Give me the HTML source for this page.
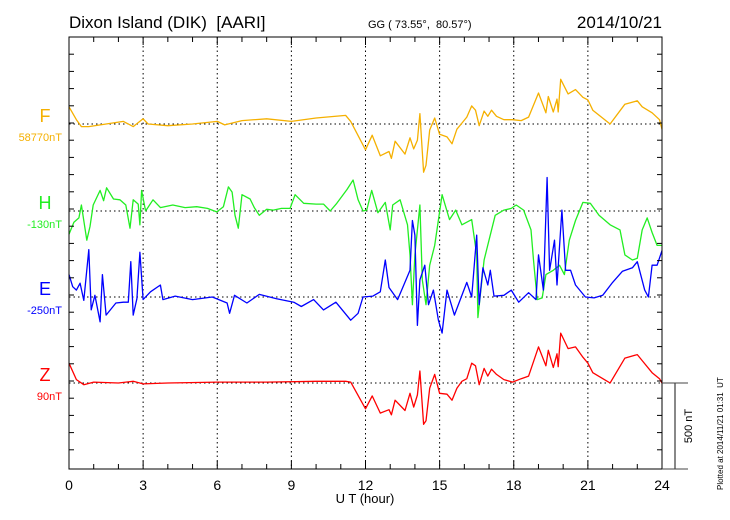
<!DOCTYPE html>
<html><head><meta charset="utf-8"><style>
body{margin:0;background:#fff}
svg{display:block;font-family:"Liberation Sans",sans-serif}
</style></head><body>
<svg id="chart" width="730" height="520" viewBox="0 0 730 520" xmlns="http://www.w3.org/2000/svg">
<text x="69" y="28" font-size="17">Dixon Island (DIK)&#160;&#160;[AARI]</text>
<text x="368" y="28" font-size="11">GG ( 73.55°,&#160; 80.57°)</text>
<text x="662" y="28" font-size="17" text-anchor="end">2014/10/21</text>
<g id="grid"></g>
<g id="series"></g>
<rect x="69" y="37" width="593" height="432" fill="none" stroke="#000" stroke-width="1"/>
<g id="ticks"></g>
<g id="labels"></g>
<text x="365" y="503" font-size="13" text-anchor="middle">U T (hour)</text>
<line x1="675" y1="383" x2="675" y2="469" stroke="#888" stroke-width="2"/>
<line x1="662" y1="383" x2="688" y2="383" stroke="#444" stroke-width="1"/>
<line x1="662" y1="469" x2="688" y2="469" stroke="#444" stroke-width="1"/>
<text transform="translate(692,426) rotate(-90)" font-size="11" text-anchor="middle">500 nT</text>
<text transform="translate(723,490) rotate(-90)" font-size="8">Plotted at 2014/11/21 01:31&#160; UT</text>
</svg>
<script>
const xTicks=[0,3,6,9,12,15,18,21,24];
const fHours=[0,0.3,0.5,0.8,1.5,2.2,2.6,3.0,3.2,4,5,6,6.3,7,8,9,10,11.2,11.4,12.0,12.27,12.6,12.95,13.05,13.2,13.6,13.8,13.95,14.1,14.2,14.35,14.45,14.6,14.8,15.0,15.3,15.5,15.7,15.9,16.1,16.3,16.45,16.6,16.8,16.95,17.1,17.3,17.6,17.95,18.3,18.6,19.0,19.3,19.4,19.6,19.75,19.8,19.9,20.2,20.5,20.8,21.0,21.2,21.9,22.5,23.0,23.2,23.6,23.9,24];
const fValues=[100,25,-15,-15,0,15,-15,30,0,-10,0,15,-5,20,30,15,35,50,15,-150,-65,-185,-160,-200,-100,-175,-80,-145,-95,60,-280,-240,-35,35,-60,-75,-115,-30,5,40,105,80,-10,75,45,80,45,25,25,20,40,180,65,160,70,145,70,260,175,200,155,140,80,0,115,135,100,65,25,-30];
const zHours=[0,0.3,0.6,1,2,2.6,3,4,6,8,10,11.2,11.4,12.0,12.27,12.6,12.95,13.05,13.2,13.6,13.8,13.95,14.1,14.2,14.35,14.45,14.6,14.8,15.0,15.3,15.5,15.7,15.9,16.1,16.3,16.45,16.6,16.8,16.95,17.1,17.3,17.6,17.95,18.3,18.6,19.0,19.3,19.4,19.6,19.75,19.8,19.9,20.2,20.5,20.8,21.0,21.2,21.9,22.5,23.0,23.2,23.6,23.9,24];
const zValues=[115,20,-10,5,0,10,-5,0,5,5,10,10,5,-150,-75,-175,-155,-185,-100,-160,-60,-140,-70,70,-240,-220,-30,50,-60,-65,-100,-30,10,25,115,100,-10,85,40,80,50,20,5,25,40,210,100,190,90,170,95,290,200,210,150,115,60,0,145,165,130,60,25,0];
const hHours=[0,0.2,0.4,0.5,0.72,0.85,0.98,1.26,1.4,1.52,1.8,2.06,2.3,2.47,2.6,2.8,2.87,2.94,3.1,3.4,3.7,4.2,4.7,5.17,5.6,5.98,6.25,6.45,6.6,6.72,6.85,7.0,7.33,7.5,7.7,8.0,8.27,8.6,8.95,9.15,9.5,10.0,10.3,10.57,10.84,11.25,11.5,11.7,11.9,12.05,12.25,12.5,12.8,13.0,13.1,13.4,13.7,13.8,13.9,14.0,14.2,14.3,14.45,14.6,14.8,15.0,15.1,15.4,15.65,15.9,16.3,16.5,16.55,16.8,17.0,17.25,17.6,17.9,18.1,18.4,18.7,18.8,18.95,19.15,19.3,19.6,19.85,20.05,20.25,20.5,20.8,21.1,21.45,21.9,22.3,22.5,22.8,23.0,23.2,23.4,23.6,23.8,24];
const hValues=[-135,-65,-40,35,-170,-90,35,120,60,135,70,65,35,-100,65,40,-80,120,0,65,20,35,20,25,15,-5,25,140,110,-25,-100,95,70,20,-25,10,5,15,15,95,45,40,40,0,45,125,180,65,0,5,120,-10,50,-110,35,65,-80,-255,-545,-255,35,-400,-545,-315,-200,-5,95,-50,5,-80,-50,-255,-620,-285,-170,-25,5,15,35,5,-110,-285,-515,-505,-370,-345,-315,-370,-170,-55,50,45,-25,-80,-110,-255,-285,-275,-110,-40,-125,-200,-200];
const eHours=[0,0.15,0.3,0.45,0.6,0.8,0.9,1.05,1.26,1.35,1.5,1.9,2.2,2.4,2.5,2.6,2.75,2.87,3.0,3.3,3.7,3.8,4.3,5.0,5.8,6.4,6.5,6.7,7.2,7.7,8.4,9.1,9.4,9.9,10.3,10.8,11.4,11.7,11.9,12.3,12.6,12.8,12.95,13.3,13.55,13.8,13.9,14.0,14.1,14.2,14.4,14.55,14.75,14.95,15.1,15.3,15.6,16.1,16.3,16.5,16.6,16.75,16.95,17.05,17.2,17.6,17.9,18.2,18.6,18.9,19.0,19.2,19.35,19.45,19.65,19.75,19.95,20.1,20.3,20.5,20.9,21.25,21.6,22.0,22.4,22.8,23.0,23.3,23.45,23.6,23.8,24];
const eValues=[130,60,40,80,-20,275,-75,10,-145,130,-105,-35,-30,-30,205,-105,-10,260,-15,30,70,-15,5,-15,0,-35,-95,10,-35,15,-10,-30,-55,-15,-75,-30,-135,-95,0,5,30,215,55,-15,70,155,445,360,-165,100,185,-45,40,-135,-210,40,-105,85,0,360,-45,170,70,155,5,10,40,-30,25,-15,245,40,695,155,330,70,505,155,155,70,0,-5,10,85,150,170,205,40,0,185,185,270];

const NS='http://www.w3.org/2000/svg';
const X0=69,XW=593,PY0=37,PY1=469,PXNT=86/500;
const xs=h=>X0+h/24*XW;
const ys=(base,v)=>base-v*PXNT;
function mk(tag,attrs,parent){const e=document.createElementNS(NS,tag);for(const k in attrs)e.setAttribute(k,attrs[k]);parent.appendChild(e);return e;}
const grid=document.getElementById('grid'),ticks=document.getElementById('ticks'),labels=document.getElementById('labels'),series=document.getElementById('series');
xTicks.forEach(h=>{
  if(h>0&&h<24){const l=mk('line',{x1:xs(h),x2:xs(h),y1:PY0,y2:PY1,stroke:'#000','stroke-width':1,'stroke-dasharray':'1.5,3'},grid);
  
  }
  const t=mk('text',{x:xs(h),y:490,'font-size':14,'text-anchor':'middle'},labels);t.textContent=h;
  
  
});
for(let h=1;h<24;h++){
  const len=h%3===0?8:5;
  const a=mk('line',{x1:xs(h),x2:xs(h),y1:PY1,y2:PY1-len,stroke:'#000'},ticks);
  
  
  const b=mk('line',{x1:xs(h),x2:xs(h),y1:PY0,y2:PY0+len,stroke:'#000'},ticks);
  
  
}
for(let k=1;k<25;k++){const y=PY0+k*100*PXNT;if(y>=PY1)break;
  const a=mk('line',{x1:X0,x2:X0+5,y1:y,y2:y,stroke:'#000'},ticks);
  
  
  const b=mk('line',{x1:X0+XW,x2:X0+XW-5,y1:y,y2:y,stroke:'#000'},ticks);
  
  
}
const comps=[
 {n:'f',label:'F',off:'58770nT',base:124,color:'#f5b000',hs:fHours,vs:fValues},
 {n:'h',label:'H',off:'-130nT',base:211,color:'#22ee22',hs:hHours,vs:hValues},
 {n:'e',label:'E',off:'-250nT',base:297,color:'#0000ff',hs:eHours,vs:eValues},
 {n:'z',label:'Z',off:'90nT',base:383,color:'#ff0000',hs:zHours,vs:zValues}];
comps.forEach(c=>{
  const bl=mk('line',{x1:X0,x2:X0+XW,y1:c.base,y2:c.base,stroke:'#000','stroke-dasharray':'1.5,3'},grid);
  
  
  const d=c.hs.map((h,i)=>(i?'L':'M')+xs(h).toFixed(1)+','+ys(c.base,c.vs[i]).toFixed(1)).join('');
  const p=mk('path',{d:d,fill:'none',stroke:c.color,'stroke-width':1.3,'stroke-linejoin':'round'},series);
  
  
  const t=mk('text',{x:45,y:c.base-2,'font-size':18,'text-anchor':'middle',fill:c.color},labels);t.textContent=c.label;
  
  
  const o=mk('text',{x:62,y:c.base+17,'font-size':11,'text-anchor':'end',fill:c.color},labels);o.textContent=c.off;
  
  
});
</script>
</body></html>
